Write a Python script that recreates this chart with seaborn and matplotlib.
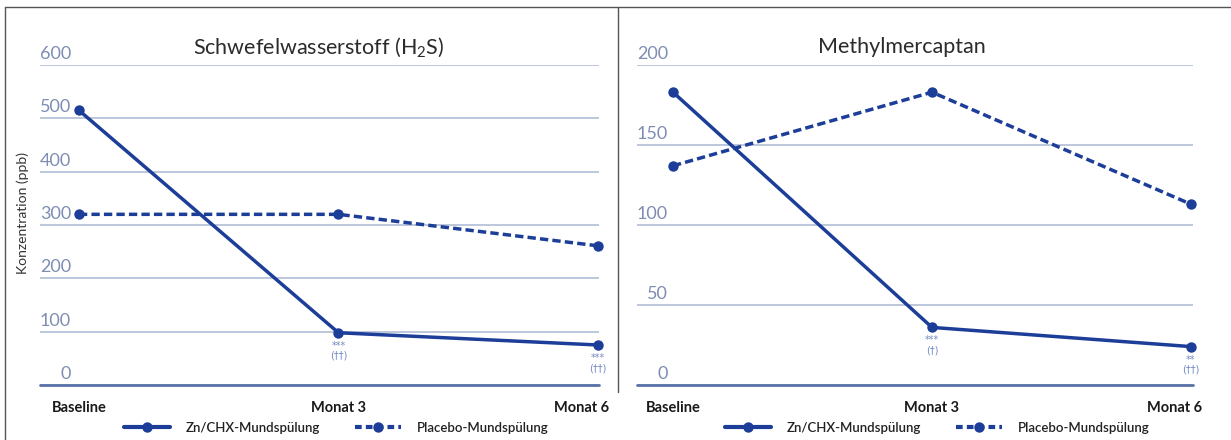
import numpy as np
import pandas as pd
import matplotlib.pyplot as plt
import matplotlib.transforms as mtransforms
from matplotlib.lines import Line2D
import seaborn as sns

# Daten
zeitpunkte = ["Baseline", "Monat 3", "Monat 6"]
gruppen = ["Zn/CHX-Mundspülung", "Placebo-Mundspülung"]

h2s_zn = [515, 98, 75]
h2s_placebo = [320, 320, 261]
h2s_sig = ["", "***\n(††)", "***\n(††)"]
h2s_ticks = [0, 100, 200, 300, 400, 500, 600]

mm_zn = [183, 36, 24]
mm_placebo = [137, 183, 113]
mm_sig = ["", "***\n(†)", "**\n(††)"]
mm_ticks = [0, 50, 100, 150, 200]

titel = [r"Schwefelwasserstoff (H$\mathregular{_2}$S)", "Methylmercaptan"]

sns.set_theme(style="white")
plt.rcParams['font.family'] = ['Lato', 'DejaVu Sans']
plt.rcParams['mathtext.fontset'] = 'custom'
plt.rcParams['mathtext.rm'] = 'Lato'

blau = "#1d3e98"
grid_farbe = "#b8c3da"
tick_farbe = "#7f8db3"
sig_farbe = "#7489c2"

W, H = 1231, 440
fig = plt.figure(figsize=(W / 100, H / 100), dpi=100)


def px_box(x0, x1, y0, y1):
    # pixel box (von oben gemessen) -> figure fraction
    return [x0 / W, 1 - y1 / H, (x1 - x0) / W, (y1 - y0) / H]


panels = [
    dict(box=px_box(40, 599, 65, 385), xlim=(-0.150, 2.004), zn=h2s_zn, pl=h2s_placebo,
         sig=h2s_sig, ticks=h2s_ticks, title_x=319, leg_x=124),
    dict(box=px_box(637, 1193, 65, 385), xlim=(-0.139, 2.008), zn=mm_zn, pl=mm_placebo,
         sig=mm_sig, ticks=mm_ticks, title_x=902, leg_x=725),
]

dash_stil = (2.4, 1.2)

for i, p in enumerate(panels):
    ax = fig.add_axes(p["box"])
    df = pd.DataFrame({
        "pos": list(range(len(zeitpunkte))) * 2,
        "wert": p["zn"] + p["pl"],
        "gruppe": [gruppen[0]] * len(zeitpunkte) + [gruppen[1]] * len(zeitpunkte),
    })
    sns.lineplot(data=df, x="pos", y="wert", style="gruppe", style_order=gruppen,
                 dashes={gruppen[0]: "", gruppen[1]: dash_stil},
                 markers={gruppen[0]: "o", gruppen[1]: "o"},
                 color=blau, linewidth=2.5, markersize=7.5, markeredgewidth=0,
                 legend=False, ax=ax)
    for ln in ax.lines:
        ln.set_clip_on(False)
        ln.set_zorder(5)

    top = p["ticks"][-1]
    ax.set_xlim(*p["xlim"])
    ax.set_ylim(0, top)
    ax.set_yticks(p["ticks"])
    ax.grid(axis="y", color=grid_farbe, linewidth=1.3)
    ax.grid(axis="x", visible=False)
    ax.axhline(0, color="#5a72a8", linewidth=2.0, zorder=3, clip_on=False)
    for s in ax.spines.values():
        s.set_visible(False)
    ax.tick_params(left=False, bottom=False, labelleft=False, labelbottom=False)
    ax.set_xlabel("")
    ax.set_ylabel("")

    # y-Beschriftungen über den Gitterlinien
    ylab_tr = mtransforms.blended_transform_factory(ax.transAxes, ax.transData) + \
        mtransforms.ScaledTranslation(31 / 100, 3 / 100, fig.dpi_scale_trans)
    for t in p["ticks"]:
        ax.text(0, t, str(t), transform=ylab_tr, ha="right", va="bottom",
                fontsize=13, color=tick_farbe)

    # x-Beschriftungen
    xlab_tr = mtransforms.blended_transform_factory(ax.transData, ax.transAxes)
    for j, z in enumerate(zeitpunkte):
        ha = "right" if j == len(zeitpunkte) - 1 else "center"
        off = mtransforms.ScaledTranslation((11 if ha == "right" else 0) / 100, -16 / 100,
                                            fig.dpi_scale_trans)
        ax.text(j, 0, z, transform=xlab_tr + off, ha=ha, va="top",
                fontsize=10.5, fontweight="bold", color="#1a1a1a")

    # Signifikanzen
    for j, s in enumerate(p["sig"]):
        if s:
            off = mtransforms.ScaledTranslation(0, -8 / 100, fig.dpi_scale_trans)
            ax.text(j, p["zn"][j], s, transform=ax.transData + off, ha="center", va="top",
                    fontsize=7, color=sig_farbe, linespacing=1.0,
                    family=["DejaVu Sans"])

    fig.text(p["title_x"] / W, 1 - 47 / H, titel[i], ha="center", va="center",
             fontsize=15.5, color="#2b2b2b")

    # Legende
    handles = [
        Line2D([], [], color=blau, linewidth=3, marker="o", markersize=7.5, markeredgewidth=0),
        Line2D([], [], color=blau, linewidth=3, marker="o", markersize=7.5, markeredgewidth=0,
               dashes=(1.6, 1.0)),
    ]
    leg = fig.legend(handles, gruppen, loc="center left", ncol=2, frameon=False,
                     bbox_to_anchor=(p["leg_x"] / W, 1 - 428 / H), bbox_transform=fig.transFigure,
                     borderpad=0, borderaxespad=0, handlelength=3.5, handletextpad=1.2,
                     columnspacing=2.6, fontsize=9.5, numpoints=1)
    for t in leg.get_texts():
        t.set_color("#222222")
        t.set_fontweight("semibold")

fig.text(23 / W, 1 - 213 / H, "Konzentration (ppb)", rotation=90, ha="center", va="center",
         fontsize=10, color="#333333")

# Rahmenlinien
rahmen = "#555555"
fig.add_artist(Line2D([5 / W, 1], [1 - 7 / H, 1 - 7 / H], transform=fig.transFigure,
                      color=rahmen, linewidth=1))
fig.add_artist(Line2D([5 / W, 5 / W], [0, 1 - 7 / H], transform=fig.transFigure,
                      color=rahmen, linewidth=1))
fig.add_artist(Line2D([618 / W, 618 / W], [1 - 392 / H, 1 - 7 / H], transform=fig.transFigure,
                      color=rahmen, linewidth=1))

fig.savefig("out.png", dpi=100)
